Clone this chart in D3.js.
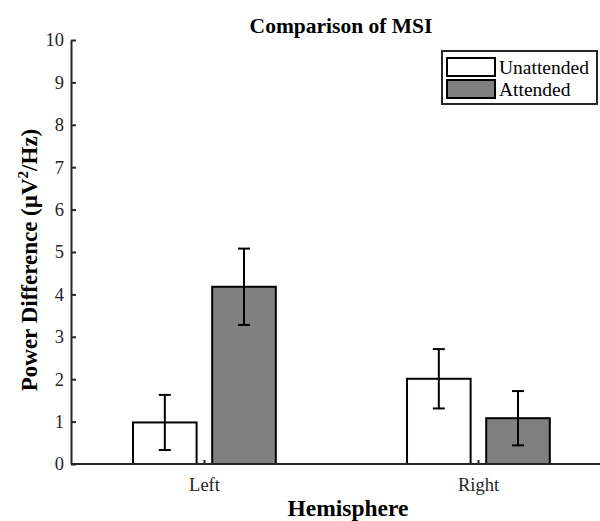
<!DOCTYPE html>
<html>
<head>
<meta charset="utf-8">
<script src="https://cdn.jsdelivr.net/npm/d3@7"></script>
<style>
  html, body { margin: 0; padding: 0; background: #fff; }
  svg { display: block; }
  text { font-family: "Liberation Serif", "Times New Roman", serif; }
</style>
</head>
<body>
<svg id="chart" width="600" height="521"></svg>
<script>
// Hemisphere groups and conditions
const hemispheres = ["Left", "Right"];
const conditions = ["Unattended", "Attended"];
const conditionFill = ["#ffffff", "#808080"];

// Mean power difference per condition (indexed by hemisphere)
const unattendedMean = [0.98, 2.01];
const attendedMean = [4.18, 1.08];
// Error bar half-widths
const unattendedErr = [0.65, 0.70];
const attendedErr = [0.90, 0.64];

const yTicks = [0, 1, 2, 3, 4, 5, 6, 7, 8, 9, 10];

const svg = d3.select("#chart");
const axisColor = "#262626";

// Hemisphere position 1 = Left, 2 = Right
const x = d3.scaleLinear().domain([1, 2]).range([204, 478]);
const y = d3.scaleLinear().domain([0, 10]).range([464, 40]);
const axisLeftX = 71;
const axisRightX = 600;

const barOffset = [-0.143, 0.146];
const barWidth = 0.232;

const means = [unattendedMean, attendedMean];
const errs = [unattendedErr, attendedErr];

const bars = [];
conditions.forEach((c, ci) => {
  hemispheres.forEach((h, hi) => {
    bars.push({ ci, hi, pos: hi + 1 + barOffset[ci], v: means[ci][hi], e: errs[ci][hi] });
  });
});

const gBars = svg.append("g");
gBars.selectAll("rect").data(bars).join("rect")
  .attr("x", d => x(d.pos - barWidth / 2))
  .attr("width", d => x(d.pos + barWidth / 2) - x(d.pos - barWidth / 2))
  .attr("y", d => y(d.v))
  .attr("height", d => y(0) - y(d.v))
  .attr("fill", d => conditionFill[d.ci])
  .attr("stroke", "#000")
  .attr("stroke-width", 2);

// Error bars
const gErr = svg.append("g").attr("stroke", "#000").attr("stroke-width", 2);
const capHalf = 6;
bars.forEach(d => {
  const cx = x(d.pos);
  gErr.append("line").attr("x1", cx).attr("x2", cx).attr("y1", y(d.v - d.e)).attr("y2", y(d.v + d.e));
  gErr.append("line").attr("x1", cx - capHalf).attr("x2", cx + capHalf).attr("y1", y(d.v + d.e)).attr("y2", y(d.v + d.e));
  gErr.append("line").attr("x1", cx - capHalf).attr("x2", cx + capHalf).attr("y1", y(d.v - d.e)).attr("y2", y(d.v - d.e));
});

// Y axis (ticks point inward)
const yAxis = d3.axisLeft(y).tickValues(yTicks).tickSize(-5).tickPadding(7).tickSizeOuter(0);
const gy = svg.append("g").attr("transform", `translate(${axisLeftX},0)`).call(yAxis);
gy.select(".domain").attr("stroke", axisColor).attr("stroke-width", 2);
gy.selectAll(".tick line").attr("stroke", axisColor).attr("stroke-width", 2);
gy.selectAll(".tick text")
  .attr("font-family", "Liberation Serif, serif")
  .attr("font-size", 18.5)
  .attr("fill", "#262626");

// X axis
const xAxis = d3.axisBottom(x).tickValues([1, 2]).tickFormat((d, i) => hemispheres[i])
  .tickSize(-4).tickPadding(14).tickSizeOuter(0);
const gx = svg.append("g").attr("transform", `translate(0,${y(0)})`).call(xAxis);
gx.select(".domain").remove();
gx.append("line").attr("x1", axisLeftX).attr("x2", axisRightX).attr("y1", 0).attr("y2", 0)
  .attr("stroke", axisColor).attr("stroke-width", 2);
gx.selectAll(".tick line").attr("stroke", axisColor).attr("stroke-width", 2);
gx.selectAll(".tick text")
  .attr("font-family", "Liberation Serif, serif")
  .attr("font-size", 18.5)
  .attr("fill", "#262626");

// Title
svg.append("text")
  .attr("x", 341).attr("y", 33)
  .attr("text-anchor", "middle")
  .attr("font-weight", "bold").attr("font-size", 21.5)
  .attr("fill", "#000")
  .text("Comparison of MSI");

// X axis label
svg.append("text")
  .attr("x", 348).attr("y", 516)
  .attr("text-anchor", "middle")
  .attr("font-weight", "bold").attr("font-size", 23.5)
  .attr("fill", "#000")
  .text("Hemisphere");

// Y axis label with superscript
const yl = svg.append("text")
  .attr("transform", `translate(37,260) rotate(-90)`)
  .attr("text-anchor", "middle")
  .attr("font-weight", "bold").attr("font-size", 23)
  .attr("fill", "#000");
yl.append("tspan").text("Power Difference (\u00b5V");
yl.append("tspan").attr("dy", -9).attr("font-size", 15).text("2");
yl.append("tspan").attr("dy", 9).text("/Hz)");

// Legend
const lg = svg.append("g");
lg.append("rect").attr("x", 442).attr("y", 51).attr("width", 155).attr("height", 53)
  .attr("fill", "#fff").attr("stroke", axisColor).attr("stroke-width", 2);
conditions.forEach((c, i) => {
  const yy = 58 + i * 22;
  lg.append("rect").attr("x", 447).attr("y", yy).attr("width", 48).attr("height", 18)
    .attr("fill", conditionFill[i]).attr("stroke", "#000").attr("stroke-width", 2);
  lg.append("text").attr("x", 499).attr("y", yy + 16)
    .attr("font-size", 19.5).attr("fill", "#000").text(c);
});
</script>
</body>
</html>
